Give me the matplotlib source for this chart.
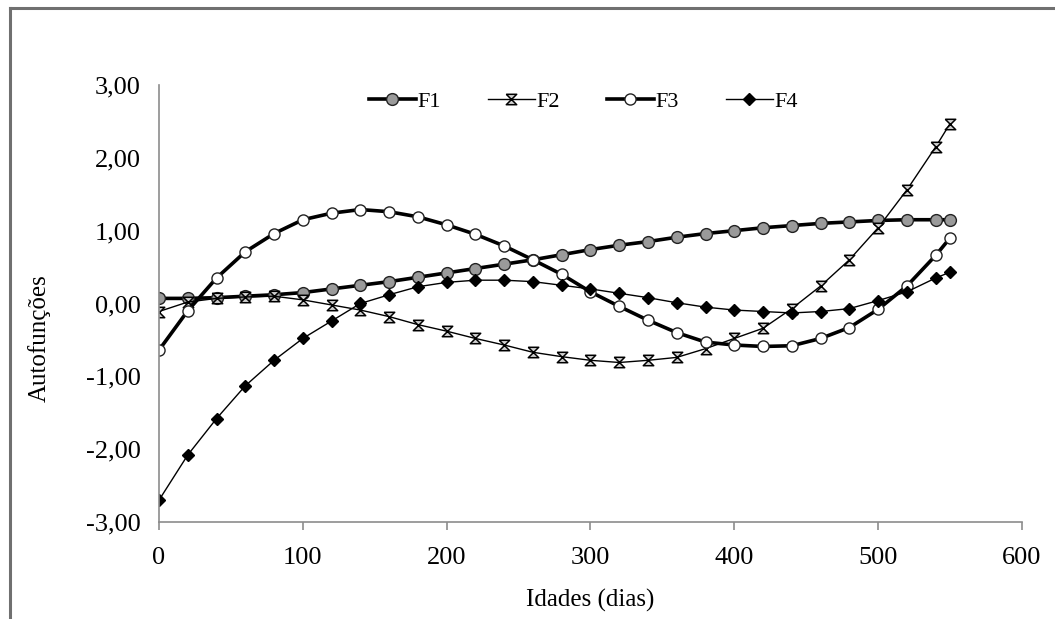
import matplotlib
matplotlib.use('Agg')
import matplotlib.pyplot as plt
from matplotlib.lines import Line2D
from matplotlib.ticker import FuncFormatter

plt.rcParams['font.family'] = ['Liberation Serif', 'DejaVu Serif']

# idades (dias)
idades = [0, 20, 40, 60, 80, 100, 120, 140, 160, 180, 200, 220, 240, 260, 280,
          300, 320, 340, 360, 380, 400, 420, 440, 460, 480, 500, 520, 540, 550]

f1 = [0.07, 0.07, 0.08, 0.10, 0.12, 0.15, 0.20, 0.25, 0.30, 0.36, 0.42, 0.48, 0.54, 0.60, 0.67,
      0.74, 0.80, 0.85, 0.91, 0.96, 1.00, 1.04, 1.07, 1.10, 1.12, 1.14, 1.15, 1.15, 1.15]
f2 = [-0.11, 0.02, 0.07, 0.09, 0.10, 0.05, -0.02, -0.09, -0.18, -0.29, -0.38, -0.48, -0.57, -0.67, -0.73,
      -0.78, -0.81, -0.78, -0.74, -0.62, -0.48, -0.34, -0.07, 0.24, 0.60, 1.04, 1.56, 2.15, 2.47]
f3 = [-0.64, -0.10, 0.35, 0.71, 0.96, 1.15, 1.24, 1.29, 1.26, 1.19, 1.08, 0.95, 0.79, 0.60, 0.40,
      0.16, -0.04, -0.23, -0.40, -0.53, -0.57, -0.59, -0.58, -0.48, -0.33, -0.08, 0.24, 0.66, 0.90]
f4 = [-2.70, -2.08, -1.58, -1.13, -0.78, -0.48, -0.24, 0.00, 0.12, 0.23, 0.29, 0.32, 0.32, 0.30, 0.25,
      0.20, 0.14, 0.08, 0.01, -0.05, -0.09, -0.11, -0.13, -0.11, -0.07, 0.04, 0.16, 0.35, 0.43]

fig = plt.figure(figsize=(10.55, 6.19), dpi=100)
ax = fig.add_axes([0.1507, 0.1567, 0.818, 0.706])

# marcador "x" do excel (x com barras em cima e em baixo)
xbar = [(-1, 1), (1, 1), (-1, -1), (1, -1), (-1, 1)]

ax.plot(idades, f1, color='black', lw=2.6, marker='o', ms=8.5, mfc='#9a9a9a', mec='#222222', mew=1, label='F1')
ax.plot(idades, f2, color='black', lw=1.0, marker=xbar, ms=7.5, mfc='#d0d0d0', mec='black', mew=1.1, label='F2')
ax.plot(idades, f3, color='black', lw=2.6, marker='o', ms=8, mfc='white', mec='#222222', mew=1, label='F3')
ax.plot(idades, f4, color='black', lw=1.0, marker='D', ms=6, mfc='black', mec='black', label='F4')

ax.set_xlim(0, 600)
ax.set_ylim(-3, 3)
ax.set_xticks(range(0, 601, 100))
ax.set_yticks(range(-3, 4))
ax.yaxis.set_major_formatter(FuncFormatter(lambda v, p: ('%.2f' % v).replace('.', ',')))

for s in ['top', 'right']:
    ax.spines[s].set_visible(False)
for s in ['left', 'bottom']:
    ax.spines[s].set_color('#8c8c8c')
    ax.spines[s].set_linewidth(1.2)
ax.tick_params(axis='x', direction='out', length=6, width=1.2, color='#8c8c8c', labelsize=19, pad=12)
ax.tick_params(axis='y', length=0, labelsize=19, pad=13)

ax.set_xlabel('Idades (dias)', fontsize=18)
ax.set_ylabel('Autofunções', fontsize=18)
ax.xaxis.set_label_coords(0.5, -0.152)
ax.yaxis.set_label_coords(-0.125, 0.42)

ax.legend(loc='upper center', bbox_to_anchor=(0.492, 1.032), ncol=4, frameon=False, fontsize=16,
          handlelength=2.1, handletextpad=0.1, columnspacing=2.1)

# moldura
fig.add_artist(Line2D([10 / 1055, 1.0], [1 - 8 / 619, 1 - 8 / 619], color='#707070', lw=2.2))
fig.add_artist(Line2D([10 / 1055, 10 / 1055], [0.0, 1 - 8 / 619], color='#707070', lw=2.2))

fig.savefig('out.png', dpi=100)
